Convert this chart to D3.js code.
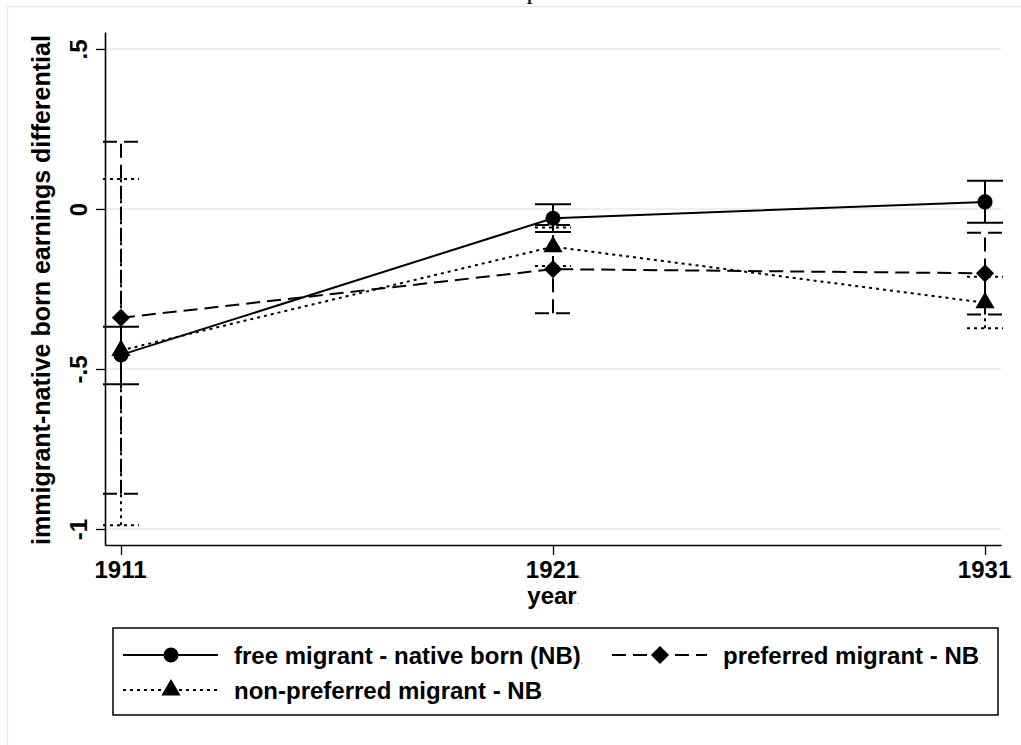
<!DOCTYPE html>
<html>
<head>
<meta charset="utf-8">
<script src="https://cdn.jsdelivr.net/npm/d3@7"></script>
<style>
  html, body { margin: 0; padding: 0; background: #fff; }
  svg { display: block; }
  text { font-family: "Liberation Sans", Arial, sans-serif; font-weight: bold; fill: #000; }
</style>
</head>
<body>
<svg id="chart" width="1021" height="745"></svg>
<script>
// ---- data ----
const years = [1911, 1921, 1931];
const yearLabels = ["1911", "1921", "1931"];
const yTicks = [0.5, 0, -0.5, -1];
const yTickLabels = [".5", "0", "-.5", "-1"];

const freeEst = [-0.456, -0.029, 0.022];
const freeLo  = [-0.548, -0.072, -0.043];
const freeHi  = [-0.368,  0.015,  0.088];

const prefEst = [-0.340, -0.188, -0.201];
const prefLo  = [-0.890, -0.326, -0.330];
const prefHi  = [ 0.210, -0.050, -0.074];

const nonEst = [-0.442, -0.118, -0.293];
const nonLo  = [-0.988, -0.178, -0.373];
const nonHi  = [ 0.094, -0.058, -0.212];

const seriesNames = ["free migrant - native born (NB)", "preferred migrant - NB", "non-preferred migrant - NB"];

// ---- layout ----
const svg = d3.select("#chart");
const x = d3.scaleLinear().domain([1910.63, 1931.37]).range([105, 1001]);
const y = d3.scaleLinear().domain([-1.05, 0.553]).range([545, 32]);

// outer graph-region border (light)
svg.append("path").attr("d", "M7.5,745 L7.5,6.5 L1021,6.5")
  .attr("fill", "none").attr("stroke", "#e6eef0").attr("stroke-width", 1.5);

// title glyph, cut off at the top edge as in the reference
svg.append("text").attr("x", 533).attr("y", -1).attr("text-anchor", "middle")
  .style("font-family", "'Liberation Serif', 'Times New Roman', serif")
  .style("font-weight", "normal").style("font-size", "26px").text("p");

// gridlines
svg.append("g").selectAll("line").data(yTicks).join("line")
  .attr("x1", 105).attr("x2", 1001)
  .attr("y1", d => y(d)).attr("y2", d => y(d))
  .attr("stroke", "#eaf1f3").attr("stroke-width", 2);

// axes
const yAxis = svg.append("g").attr("transform", "translate(105,0)")
  .call(d3.axisLeft(y).tickValues(yTicks).tickSizeOuter(0).tickSizeInner(9)
    .tickFormat((d, i) => yTickLabels[i]));
yAxis.select(".domain").attr("stroke", "#000").attr("stroke-width", 1.6);
yAxis.selectAll(".tick line").attr("stroke", "#000").attr("stroke-width", 1.3);
yAxis.selectAll(".tick text")
  .attr("transform", "rotate(-90)")
  .attr("x", 0).attr("y", -18).attr("dy", 0)
  .attr("text-anchor", "middle")
  .style("font-size", "24px").style("font-family", "'Liberation Sans', Arial, sans-serif").style("font-weight", "bold");

const xAxis = svg.append("g").attr("transform", "translate(0,545)")
  .call(d3.axisBottom(x).tickValues(years).tickSizeOuter(0).tickSizeInner(10)
    .tickFormat((d, i) => yearLabels[i]));
xAxis.select(".domain").attr("stroke", "#000").attr("stroke-width", 1.6);
xAxis.selectAll(".tick line").attr("stroke", "#000").attr("stroke-width", 1.3);
xAxis.selectAll(".tick text").attr("y", 33).attr("dy", 0)
  .style("font-size", "24px").style("font-family", "'Liberation Sans', Arial, sans-serif").style("font-weight", "bold");
xAxis.selectAll(".tick text").append("tspan").style("font-size", "7px").attr("fill", "#888").text(".");

// axis titles
svg.append("text").attr("transform", `translate(50,290) rotate(-90)`)
  .attr("text-anchor", "middle").style("font-size", "25px")
  .text("immigrant-native born earnings differential");
svg.append("text").attr("x", 553).attr("y", 604).attr("text-anchor", "middle")
  .style("font-size", "24px").text("year")
  .append("tspan").style("font-size", "7px").attr("fill", "#888").text(".");

// series
const DASH = "14,7", DOT = "3,4";
const series = [
  { name: seriesNames[0], est: freeEst, lo: freeLo, hi: freeHi, dash: null, marker: "circle" },
  { name: seriesNames[1], est: prefEst, lo: prefLo, hi: prefHi, dash: DASH, marker: "diamond" },
  { name: seriesNames[2], est: nonEst, lo: nonLo, hi: nonHi, dash: DOT, marker: "triangle" }
];
const symbolFor = {
  circle: d3.symbol().type(d3.symbolCircle).size(180),
  diamond: d3.symbol().type(d3.symbolSquare).size(165),
  triangle: d3.symbol().type(d3.symbolTriangle).size(160)
};
const CAP = 18;
const line = d3.line().x(d => x(d[0])).y(d => y(d[1]));

series.forEach(s => {
  const g = svg.append("g");
  const pts = years.map((yr, i) => [yr, s.est[i]]);
  // error bars
  years.forEach((yr, i) => {
    const cx = x(yr);
    const segs = [
      [[cx, y(s.lo[i])], [cx, y(s.hi[i])]],
      [[cx - CAP, y(s.lo[i])], [cx + CAP, y(s.lo[i])]],
      [[cx - CAP, y(s.hi[i])], [cx + CAP, y(s.hi[i])]]
    ];
    segs.forEach(sg => {
      g.append("line").attr("x1", sg[0][0]).attr("y1", sg[0][1]).attr("x2", sg[1][0]).attr("y2", sg[1][1])
        .attr("stroke", "#000").attr("stroke-width", 2)
        .attr("stroke-dasharray", s.dash);
    });
  });
  // connecting line
  g.append("path").datum(pts).attr("d", line).attr("fill", "none")
    .attr("stroke", "#000").attr("stroke-width", 2).attr("stroke-dasharray", s.dash);
  // markers
  g.selectAll("path.m").data(pts).join("path").attr("class", "m")
    .attr("d", symbolFor[s.marker])
    .attr("transform", d => `translate(${x(d[0])},${y(d[1])})` + (s.marker === "diamond" ? " rotate(45)" : ""))
    .attr("fill", "#000");
});

// legend
const lg = svg.append("g");
lg.append("rect").attr("x", 113).attr("y", 628).attr("width", 885).attr("height", 87)
  .attr("fill", "#fff").attr("stroke", "#000").attr("stroke-width", 1.5);
const legendPos = [
  { kx: 123, ky: 655 },
  { kx: 612, ky: 655 },
  { kx: 123, ky: 690 }
];
series.forEach((s, i) => {
  const p = legendPos[i];
  lg.append("line").attr("x1", p.kx).attr("x2", p.kx + 95).attr("y1", p.ky).attr("y2", p.ky)
    .attr("stroke", "#000").attr("stroke-width", 2).attr("stroke-dasharray", s.dash);
  lg.append("path").attr("d", symbolFor[s.marker])
    .attr("transform", `translate(${p.kx + 48},${p.ky})` + (s.marker === "diamond" ? " rotate(45)" : ""))
    .attr("fill", "#000");
  lg.append("text").attr("x", p.kx + 111).attr("y", p.ky + 8.5).style("font-size", "24px").text(s.name)
    .append("tspan").style("font-size", "7px").attr("fill", "#888").text(".");
});
</script>
</body>
</html>
